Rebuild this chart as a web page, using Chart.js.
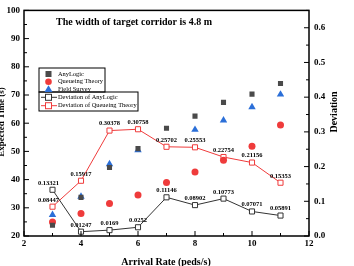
<!DOCTYPE html>
<html>
<head>
<meta charset="utf-8">
<script src="https://cdn.jsdelivr.net/npm/chart.js@4"></script>
<style>
  html, body { margin: 0; padding: 0; background: #fff; }
  #wrap { width: 354px; height: 266px; }
</style>
</head>
<body>
<div id="wrap"><canvas id="chart" width="354" height="266"></canvas></div>
<script>
// arrival rates (peds/s)
var rates = [3, 4, 5, 6, 7, 8, 9, 10, 11]
// expected time (s)
var anyLogic = [23.8, 33.7, 44.3, 51, 58.2, 62.5, 67.4, 70.3, 74.1]
var queueing = [25, 28, 31.5, 34.5, 39, 42.7, 46.9, 51.8, 59.4]
var fieldSurvey = [27.5, 34, 45.5, 50.5, null, 57.7, 61, 65.7, 70.2]
// deviations
var devAnyLogic = [0.13321, 0.01247, 0.0169, 0.0252, 0.11146, 0.08902, 0.10773, 0.07071, 0.05891]
var devQueueing = [0.08447, 0.15917, 0.30378, 0.30758, 0.25702, 0.25553, 0.22754, 0.21156, 0.15353]
var devAnyLogicLabels = ['0.13321', '0.01247', '0.0169', '0.0252', '0.11146', '0.08902', '0.10773', '0.07071', '0.05891']
var devQueueingLabels = ['0.08447', '0.15917', '0.30378', '0.30758', '0.25702', '0.25553', '0.22754', '0.21156', '0.15353']

var serif = '"Liberation Serif", "Times New Roman", serif'
var gray = '#4a4a4a'
var red = '#ef3b3b'
var blue = '#2b6fd8'

function pts(arr) {
    var out = []
    for (var i = 0; i < rates.length; i++) {
        out.push({ x: rates[i], y: arr[i] })
    }
    return out
}

// ticks, frame, titles, legend and value labels
var decor = {
    id: 'decor',
    afterDatasetsDraw: function (chart) {
        var ctx = chart.ctx
        var a = chart.chartArea
        var sx = chart.scales.x, sy = chart.scales.y, sy2 = chart.scales.y2
        ctx.save()
        ctx.strokeStyle = '#000'
        ctx.lineWidth = 1.5
        ctx.strokeRect(a.left, a.top, a.right - a.left, a.bottom - a.top)

        // inward ticks
        ctx.lineWidth = 1
        ctx.beginPath()
        for (var v = 2; v <= 12; v += 1) {
            var px = sx.getPixelForValue(v)
            var len = v % 2 === 0 ? 5 : 3
            ctx.moveTo(px, a.bottom); ctx.lineTo(px, a.bottom - len)
        }
        for (var t = 20; t <= 100; t += 5) {
            var py = sy.getPixelForValue(t)
            var l2 = t % 10 === 0 ? 5 : 3
            ctx.moveTo(a.left, py); ctx.lineTo(a.left + l2, py)
        }
        for (var d = 0; d <= 65; d += 5) {
            var py2 = sy2.getPixelForValue(d / 100)
            var l3 = d % 10 === 0 ? 5 : 3
            ctx.moveTo(a.right, py2); ctx.lineTo(a.right - l3, py2)
        }
        ctx.stroke()

        // title inside plot
        ctx.fillStyle = '#000'
        ctx.font = 'bold 10px ' + serif
        ctx.textAlign = 'center'
        ctx.textBaseline = 'middle'
        ctx.fillText('The width of target corridor is 4.8 m', 134, 22)

        // axis titles
        ctx.font = 'bold 10px ' + serif
        ctx.fillText('Arrival Rate (peds/s)', 166, 262)
        ctx.save()
        ctx.font = 'bold 9px ' + serif
        ctx.translate(2, 122)
        ctx.rotate(-Math.PI / 2)
        ctx.fillText('Expected Time (s)', 0, 0)
        ctx.restore()
        ctx.save()
        ctx.translate(334, 112)
        ctx.rotate(-Math.PI / 2)
        ctx.fillText('Deviation', 0, 0)
        ctx.restore()

        // value labels
        ctx.font = 'bold 6.5px ' + serif
        ctx.textBaseline = 'bottom'
        var labelSets = [[3, devAnyLogicLabels], [4, devQueueingLabels]]
        labelSets.forEach(function (ls) {
            var meta = chart.getDatasetMeta(ls[0])
            meta.data.forEach(function (el, i) {
                var dx = i === 0 ? -4 : 0
                ctx.fillText(ls[1][i], el.x + dx, el.y - 3.5)
            })
        })

        // two stacked legend boxes (left-axis series, right-axis series)
        ctx.fillStyle = '#fff'
        ctx.fillRect(39, 68, 66, 24)
        ctx.fillRect(39, 92, 99, 19)
        ctx.strokeStyle = '#000'
        ctx.lineWidth = 1
        ctx.strokeRect(39, 68, 66, 24)
        ctx.strokeRect(39, 92, 99, 19)
        var names = chart.data.datasets.map(function (ds) { return ds.label })
        var rowY = [74, 81.7, 89, 97.3, 105.7]
        ctx.font = '6.4px ' + serif
        ctx.textAlign = 'left'
        ctx.textBaseline = 'middle'
        for (var k = 0; k < names.length; k++) {
            var yy = rowY[k]
            var cx = 48.5
            ctx.fillStyle = '#000'
            ctx.fillText(names[k], 58, yy)
            if (k === 0) {
                ctx.fillStyle = gray; ctx.fillRect(cx - 3, yy - 3, 6, 6)
            } else if (k === 1) {
                ctx.fillStyle = red; ctx.beginPath(); ctx.arc(cx, yy, 3.3, 0, Math.PI * 2); ctx.fill()
            } else if (k === 2) {
                ctx.fillStyle = blue; ctx.beginPath()
                ctx.moveTo(cx, yy - 3.8); ctx.lineTo(cx + 4, yy + 3); ctx.lineTo(cx - 4, yy + 3)
                ctx.closePath(); ctx.fill()
            } else {
                var c = k === 3 ? '#333' : red
                ctx.strokeStyle = c
                ctx.beginPath(); ctx.moveTo(41, yy); ctx.lineTo(57, yy); ctx.stroke()
                ctx.fillStyle = '#fff'
                ctx.fillRect(cx - 3, yy - 3, 6, 6)
                ctx.strokeRect(cx - 3, yy - 3, 6, 6)
            }
        }
        ctx.restore()
    }
}

var tickFont = { family: serif, size: 9, weight: 'bold' }

new Chart(document.getElementById('chart').getContext('2d'), {
    type: 'scatter',
    data: {
        datasets: [
            {
                label: 'AnyLogic', data: pts(anyLogic), yAxisID: 'y',
                pointStyle: 'rect', pointRadius: 3.6, backgroundColor: gray, borderColor: gray, borderWidth: 0
            },
            {
                label: 'Queueing Theory', data: pts(queueing), yAxisID: 'y',
                pointStyle: 'circle', pointRadius: 3.5, backgroundColor: red, borderColor: red, borderWidth: 0
            },
            {
                label: 'Field Survey', data: pts(fieldSurvey), yAxisID: 'y',
                pointStyle: 'triangle', pointRadius: 4.3, backgroundColor: blue, borderColor: blue, borderWidth: 0
            },
            {
                label: 'Deviation of AnyLogic', data: pts(devAnyLogic), yAxisID: 'y2', showLine: true,
                borderColor: '#333', borderWidth: 1, pointStyle: 'rect', pointRadius: 3.6,
                backgroundColor: '#fff', pointBorderWidth: 1
            },
            {
                label: 'Deviation of Queueing Theory', data: pts(devQueueing), yAxisID: 'y2', showLine: true,
                borderColor: red, borderWidth: 1, pointStyle: 'rect', pointRadius: 3.6,
                backgroundColor: '#fff', pointBorderWidth: 1
            }
        ]
    },
    options: {
        responsive: false,
        animation: false,
        layout: { padding: { top: 7, left: 0, right: 0, bottom: 0 } },
        plugins: { legend: { display: false }, tooltip: { enabled: false } },
        scales: {
            x: {
                type: 'linear', min: 2, max: 12,
                ticks: { stepSize: 2, color: '#000', font: tickFont, padding: 2 },
                grid: { display: false, drawTicks: false },
                border: { display: false },
                afterFit: function (s) { s.height = 30 }
            },
            y: {
                position: 'left', min: 20, max: 100,
                ticks: { stepSize: 10, color: '#000', font: tickFont, padding: 4 },
                grid: { display: false, drawTicks: false },
                border: { display: false },
                afterFit: function (s) { s.width = 24 }
            },
            y2: {
                position: 'right', min: 0, max: 0.65,
                ticks: {
                    stepSize: 0.1, color: '#000', font: tickFont, padding: 5,
                    callback: function (v) { return v.toFixed(1) }
                },
                afterBuildTicks: function (s) {
                    s.ticks = s.ticks.filter(function (t) { return Math.abs(t.value * 10 - Math.round(t.value * 10)) < 1e-6 })
                },
                grid: { display: false, drawTicks: false },
                border: { display: false },
                afterFit: function (s) { s.width = 45 }
            }
        }
    },
    plugins: [decor]
})
</script>
</body>
</html>
